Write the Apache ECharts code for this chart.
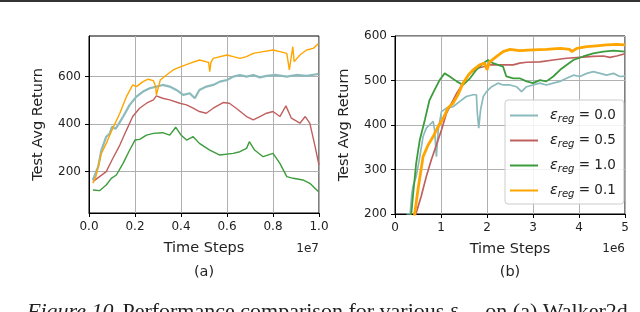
<!DOCTYPE html>
<html><head><meta charset="utf-8">
<script src="https://cdn.jsdelivr.net/npm/echarts@6/dist/echarts.min.js"></script>
<style>html,body{margin:0;padding:0;background:#fff}#c{width:640px;height:312px}</style>
</head><body><div id="c"></div>
<script>
// ---- Data (a): x in units of 1e7 steps ----
const tealA = [[0.017,165],[0.04,221],[0.054,291],[0.075,347],[0.09,360],[0.10,389],[0.115,380],[0.126,396],[0.148,431],[0.177,481],[0.206,516],[0.235,537],[0.264,551],[0.293,558],[0.32,565],[0.351,558],[0.38,544],[0.41,523],[0.438,530],[0.46,509],[0.48,544],[0.51,558],[0.54,565],[0.569,579],[0.60,586],[0.627,600],[0.656,607],[0.685,600],[0.714,607],[0.743,597],[0.772,603],[0.815,607],[0.86,600],[0.90,607],[0.946,603],[0.997,611]];
const redA = [[0.017,158],[0.046,179],[0.075,200],[0.10,249],[0.134,312],[0.163,375],[0.19,432],[0.22,467],[0.25,488],[0.28,502],[0.293,519],[0.32,509],[0.351,502],[0.395,488],[0.424,481],[0.453,467],[0.48,453],[0.51,446],[0.54,467],[0.583,491],[0.61,488],[0.64,467],[0.685,432],[0.714,418],[0.743,432],[0.772,446],[0.80,453],[0.83,432],[0.856,477],[0.88,425],[0.917,404],[0.94,432],[0.96,404],[0.98,319],[1.0,228]];
const greenA = [[0.017,123],[0.046,120],[0.075,144],[0.097,172],[0.119,186],[0.148,235],[0.177,291],[0.20,333],[0.22,336],[0.25,354],[0.28,361],[0.32,364],[0.351,354],[0.377,387],[0.40,354],[0.424,333],[0.453,347],[0.48,319],[0.525,291],[0.569,270],[0.627,277],[0.656,284],[0.685,298],[0.697,326],[0.72,291],[0.757,263],[0.80,277],[0.83,235],[0.86,179],[0.888,172],[0.93,165],[0.96,151],[0.997,116]];
const orangeA = [[0.017,151],[0.03,179],[0.054,277],[0.075,319],[0.10,375],[0.134,446],[0.163,516],[0.19,565],[0.206,558],[0.235,579],[0.257,589],[0.28,583],[0.29,558],[0.293,523],[0.31,586],[0.337,607],[0.366,628],[0.40,642],[0.438,656],[0.48,670],[0.52,660],[0.525,621],[0.53,660],[0.54,677],[0.60,691],[0.627,684],[0.656,677],[0.685,684],[0.714,698],[0.757,705],[0.80,712],[0.83,705],[0.86,698],[0.868,690],[0.871,628],[0.886,726],[0.892,663],[0.90,670],[0.917,691],[0.946,712],[0.975,719],[0.997,738]];
// ---- Data (b): x in units of 1e6 steps ----
const tealB = [[0.25,200],[0.33,200],[0.36,240],[0.39,262],[0.46,284],[0.54,329],[0.61,374],[0.68,393],[0.75,400],[0.83,408],[0.86,389],[0.90,329],[0.94,389],[1.01,430],[1.12,438],[1.26,441],[1.41,453],[1.55,464],[1.70,468],[1.77,468],[1.79,427],[1.82,393],[1.86,434],[1.92,464],[1.99,475],[2.1,486],[2.24,494],[2.35,490],[2.50,490],[2.64,486],[2.75,475],[2.86,486],[3.0,490],[3.15,494],[3.29,490],[3.44,494],[3.59,498],[3.73,505],[3.88,512],[4.02,509],[4.17,516],[4.31,520],[4.46,516],[4.6,512],[4.75,516],[4.89,509],[5.0,510]];
const redB = [[0.44,190],[0.46,202],[0.57,240],[0.68,284],[0.79,322],[0.90,355],[1.01,389],[1.12,427],[1.23,449],[1.34,471],[1.48,494],[1.63,516],[1.77,527],[1.92,531],[2.06,535],[2.35,535],[2.57,535],[2.71,539],[2.86,541],[3.15,542],[3.44,546],[3.73,550],[4.02,552],[4.31,554],[4.53,555],[4.67,552],[4.82,555],[5.0,560]];
const greenB = [[0.33,195],[0.356,202],[0.39,240],[0.46,314],[0.54,367],[0.65,412],[0.75,456],[0.86,479],[0.97,501],[1.08,516],[1.19,509],[1.34,498],[1.48,490],[1.63,505],[1.77,524],[1.92,539],[2.02,546],[2.13,539],[2.35,531],[2.42,509],[2.57,505],[2.71,505],[2.86,498],[3.0,494],[3.15,501],[3.29,498],[3.44,509],[3.59,524],[3.73,535],[3.88,546],[4.09,554],[4.31,561],[4.53,565],[4.75,567],[5.0,565]];
const orangeB = [[0.41,190],[0.43,202],[0.50,255],[0.61,329],[0.72,355],[0.83,374],[0.94,397],[1.05,415],[1.15,438],[1.26,449],[1.37,468],[1.48,494],[1.59,512],[1.70,524],[1.84,535],[1.95,539],[2.0,524],[2.06,542],[2.21,554],[2.35,565],[2.50,570],[2.71,567],[3.0,569],[3.29,570],[3.59,572],[3.80,570],[3.84,565],[3.95,572],[4.17,576],[4.38,578],[4.6,580],[4.82,581],[5.0,580]];
const seriesNames = ['0.0','0.5','1.0','0.1'];
const yTicksA = [200,400,600];

const colors = ['#8bbabc','#c0605e','#3c9c3c','#ffa500'];
const font = 'DejaVu Sans';
const chart = echarts.init(document.getElementById('c'), null, {renderer:'canvas'});

function axisCommon(){
  return {
    axisLine:{show:true,onZero:false,lineStyle:{color:'#000',width:1}},
    axisTick:{show:true,inside:false,length:4,lineStyle:{color:'#000'}},
    axisLabel:{color:'#222',fontFamily:font,fontSize:12},
    splitLine:{show:true,lineStyle:{color:'#b0b0b0',width:1}},
    nameTextStyle:{color:'#222',fontFamily:font,fontSize:14.5}
  };
}
const xA = Object.assign(axisCommon(),{type:'value',gridIndex:0,min:0,max:1,interval:0.2,name:'Time Steps',nameLocation:'middle',nameGap:28});
xA.axisLabel.formatter = v => v.toFixed(1); xA.axisLabel.margin = 8;
const xB = Object.assign(axisCommon(),{type:'value',gridIndex:1,min:0,max:5,interval:1,name:'Time Steps',nameLocation:'middle',nameGap:28});
xB.axisLabel.margin = 8;
const yA = Object.assign(axisCommon(),{type:'value',gridIndex:0,min:26,max:771,name:'Test Avg Return',nameLocation:'middle',nameGap:43});
yA.axisTick.customValues = yTicksA; yA.axisLabel.customValues = yTicksA; yA.axisLabel.margin = 8;
const yB = Object.assign(axisCommon(),{type:'value',gridIndex:1,min:200,max:600,interval:100,name:'Test Avg Return',nameLocation:'middle',nameGap:43});
yB.axisLabel.margin = 8;

function mk(name,data,idx,gi,w){
  return {name:name,type:'line',xAxisIndex:gi,yAxisIndex:gi,data:data,showSymbol:false,symbol:'none',
    lineStyle:{color:colors[idx],width:w},itemStyle:{color:colors[idx]},animation:false,z:2+idx};
}
const legendFmt = n => '{e|ε}{s|reg}{n| = ' + n + '}';

chart.setOption({
  animation:false,
  grid:[
    {left:89,top:36,width:230,height:177,show:true,borderColor:'#000',borderWidth:1},
    {left:395,top:36,width:230,height:178,show:true,borderColor:'#000',borderWidth:1}
  ],
  xAxis:[xA,xB],
  yAxis:[yA,yB],
  legend:{
    orient:'vertical',left:505,top:100,width:120,
    itemWidth:28,itemHeight:14,itemGap:9,padding:[8,8,5,4],
    itemStyle:{opacity:0},
    backgroundColor:'rgba(255,255,255,0.85)',borderColor:'#ccc',borderWidth:1,borderRadius:3,
    data:seriesNames,
    formatter:legendFmt,
    textStyle:{color:'#222',fontFamily:font,fontSize:13.5,
      rich:{
        e:{fontFamily:font,fontStyle:'italic',fontSize:14.5,padding:[0,0,0,7]},
        s:{fontFamily:font,fontStyle:'italic',fontSize:10,verticalAlign:'bottom',padding:[7,0,0,0]},
        n:{fontFamily:font,fontSize:13.5}
      }}
  },
  series:[
    mk('0.0',tealA,0,0,2.2), mk('0.5',redA,1,0,1.4), mk('1.0',greenA,2,0,1.4), mk('0.1',orangeA,3,0,1.4),
    mk('0.0',tealB,0,1,1.7), mk('0.5',redB,1,1,1.7), mk('1.0',greenB,2,1,1.8), mk('0.1',orangeB,3,1,2.8)
  ],
  graphic:[
    {type:'line',shape:{x1:0,y1:1,x2:640,y2:1},style:{stroke:'#333',lineWidth:2}},
    {type:'text',x:319,y:249,style:{text:'1e7',font:'12px "DejaVu Sans"',fill:'#222',textAlign:'right',textVerticalAlign:'middle'}},
    {type:'text',x:625,y:249,style:{text:'1e6',font:'12px "DejaVu Sans"',fill:'#222',textAlign:'right',textVerticalAlign:'middle'}},
    {type:'text',x:204,y:272,style:{text:'(a)',font:'14.5px "DejaVu Sans"',fill:'#222',textAlign:'center',textVerticalAlign:'middle'}},
    {type:'text',x:510,y:272,style:{text:'(b)',font:'14.5px "DejaVu Sans"',fill:'#222',textAlign:'center',textVerticalAlign:'middle'}},
    {type:'text',x:27,y:301,style:{
      text:'{i|Figure 10.} {r|Performance comparison for various }{e|ε}{s|reg}{r| on (a) Walker2d}',
      fill:'#222',
      rich:{
        i:{fontFamily:'Liberation Serif',fontStyle:'italic',fontSize:22,fill:'#222'},
        r:{fontFamily:'Liberation Serif',fontSize:22,fill:'#222'},
        e:{fontFamily:'Liberation Serif',fontStyle:'italic',fontSize:20,fill:'#222'},
        s:{fontFamily:'Liberation Serif',fontStyle:'italic',fontSize:14,fill:'#222',verticalAlign:'bottom',padding:[8,4,0,0]}
      }}}
  ]
});
</script></body></html>
